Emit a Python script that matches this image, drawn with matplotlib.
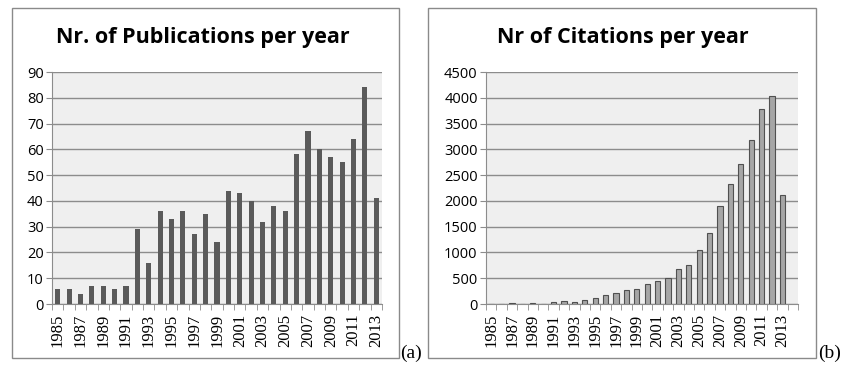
import matplotlib
matplotlib.use("Agg")
import matplotlib.pyplot as plt
from matplotlib.patches import Rectangle
from matplotlib.ticker import FixedLocator, MultipleLocator

years = list(range(1985, 2014))
publications = [6, 6, 4, 7, 7, 6, 7, 29, 16, 36, 33, 36, 27, 35, 24,
                44, 43, 40, 32, 38, 36, 58, 67, 60, 57, 55, 64, 84, 41]
citations = [0, 8, 10, 9, 10, 8, 33, 52, 45, 78, 123, 168, 220, 280, 285,
             380, 440, 500, 670, 755, 1045, 1380, 1895, 2330, 2720, 3180,
             3780, 4030, 2120]
tick_years = [str(y) for y in years[::2]]

W, H = 844, 365
fig = plt.figure(figsize=(W / 100, H / 100), dpi=100)

GRID = "#8c8c8c"
BG = "#efefef"


def px_axes(x0, x1, y0, y1):
    return fig.add_axes([x0 / W, 1 - y1 / H, (x1 - x0) / W, (y1 - y0) / H])


def style(ax, n_cat, ymax, ystep, title, title_x):
    ax.set_facecolor(BG)
    ax.set_xlim(-0.5, n_cat - 0.5)
    ax.set_ylim(0, ymax)
    ax.yaxis.set_major_locator(MultipleLocator(ystep))
    ax.grid(axis="y", color=GRID, linewidth=1)
    ax.set_axisbelow(True)
    for s in ("top", "right"):
        ax.spines[s].set_visible(False)
    for s in ("left", "bottom"):
        ax.spines[s].set_color(GRID)
    ax.tick_params(axis="y", colors=GRID, length=4, labelcolor="black",
                   labelsize=10.5, pad=2)
    for lab in ax.get_yticklabels():
        lab.set_family("Open Sans")
    # category ticks between bars, labels on every other bar
    ax.xaxis.set_minor_locator(FixedLocator([i - 0.5 for i in range(n_cat + 1)]))
    ax.set_xticks(range(0, len(years), 2))
    ax.set_xticklabels(tick_years, rotation=90, family="Liberation Serif",
                       fontsize=12)
    ax.tick_params(axis="x", which="major", length=0, pad=7)
    ax.tick_params(axis="x", which="minor", length=4, color=GRID)
    fig.text(title_x / W, 1 - 38 / H, title, ha="center", va="center",
             family="Open Sans", fontweight="bold", fontsize=15.5)


ax_pub = px_axes(52, 382, 72, 304)
ax_pub.bar(range(len(years)), publications, width=0.45, color="#5a5a5a",
           zorder=3)
style(ax_pub, len(years), 90, 10, "Nr. of Publications per year", 203)

ax_cit = px_axes(486, 798, 72, 304)
ax_cit.bar(range(len(years)), citations, width=0.5, color="#a6a6a6",
           edgecolor="#505050", linewidth=0.8, zorder=3)
style(ax_cit, len(years) + 1, 4500, 500, "Nr of Citations per year", 623)

# outer frames around each chart
for x0, x1 in ((12, 399), (428, 816)):
    fig.patches.append(Rectangle((x0 / W, 1 - 358 / H), (x1 - x0) / W,
                                 350 / H, transform=fig.transFigure,
                                 fill=False, edgecolor="#8a8a8a",
                                 linewidth=1))

fig.text(400 / W, 3 / H, "(a)", family="Liberation Serif", fontsize=14,
         va="bottom", ha="left")
fig.text(818 / W, 3 / H, "(b)", family="Liberation Serif", fontsize=14,
         va="bottom", ha="left")

fig.savefig("out.png", dpi=100)
